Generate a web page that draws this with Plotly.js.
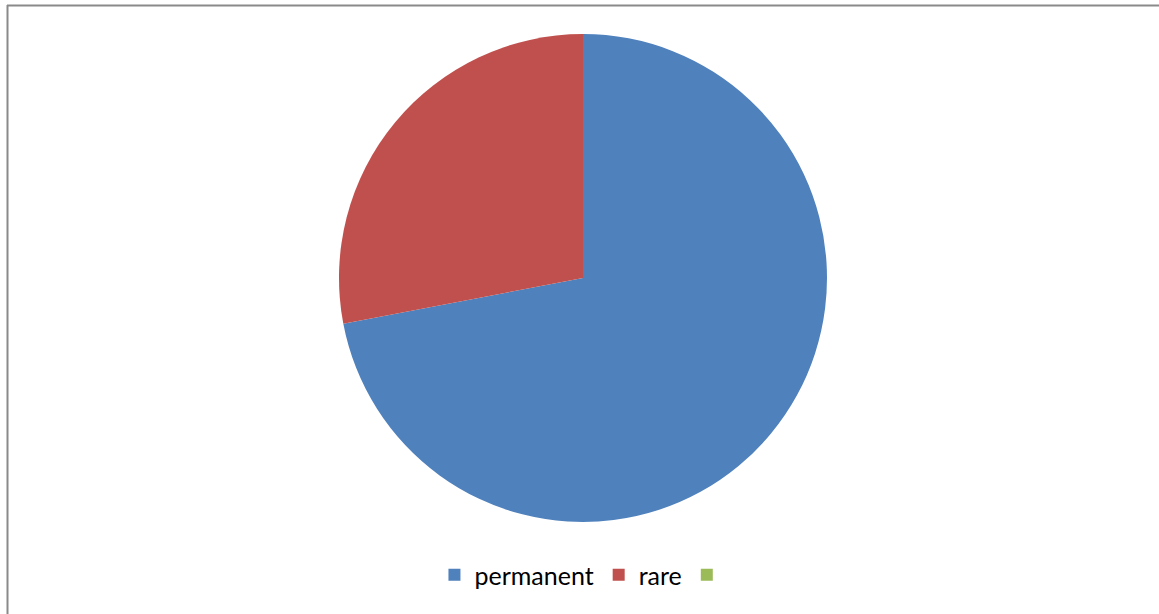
<!DOCTYPE html>
<html>
<head>
<meta charset="utf-8">
<script src="https://cdn.plot.ly/plotly-3.0.1.min.js"></script>
<style>
  html, body { margin: 0; padding: 0; background: #ffffff; }
  #chart { width: 1159px; height: 614px; }
</style>
</head>
<body>
<div id="chart"></div>
<script>
const categories = ["permanent", "rare", " "];
const values = [72, 28, 0];
const colors = ["#4F81BD", "#C0504D", "#9BBB59"];

const W = 1159, H = 614;
const px = v => v / W;
const py = v => 1 - v / H;

const trace = {
  type: "pie",
  labels: categories,
  values: values,
  sort: false,
  direction: "clockwise",
  rotation: 0,
  textinfo: "none",
  hoverinfo: "label+value+percent",
  marker: { colors: colors, line: { width: 0 } },
  domain: { x: [px(339), px(827)], y: [py(522), py(34)] }
};

const layout = {
  width: W,
  height: H,
  margin: { l: 0, r: 0, t: 0, b: 0 },
  paper_bgcolor: "#ffffff",
  showlegend: true,
  legend: {
    orientation: "h",
    x: 0.506, xanchor: "center",
    y: py(575), yanchor: "middle",
    font: { family: "Lato, 'Open Sans', sans-serif", size: 25, color: "#000000" },
    bgcolor: "rgba(0,0,0,0)"
  },
  shapes: [
    { type: "line", xref: "paper", yref: "paper", x0: px(7), x1: px(1159), y0: py(5.5), y1: py(5.5),
      line: { color: "#8a8a8a", width: 2 } },
    { type: "line", xref: "paper", yref: "paper", x0: px(7.5), x1: px(7.5), y0: py(5), y1: py(614),
      line: { color: "#8a8a8a", width: 2 } }
  ]
};

Plotly.newPlot("chart", [trace], layout, { displayModeBar: false, staticPlot: false });
</script>
</body>
</html>
